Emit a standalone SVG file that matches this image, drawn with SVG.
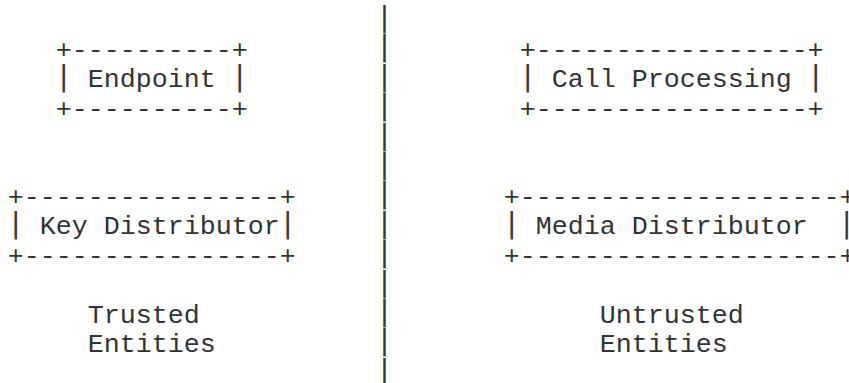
<svg xmlns="http://www.w3.org/2000/svg" width="849" height="383" viewBox="0 0 849 383">
<style>
text{font-family:"Liberation Mono","Courier New",monospace;font-size:26.67px;fill:#333;white-space:pre}
.b{font-family:"DejaVu Sans Mono","Liberation Mono",monospace;font-size:29px;fill:#3a3a3a}
.bar{text-anchor:middle}
</style>
<rect width="849" height="383" fill="#fff"/>
<g id="connectors">
<g id="divider" class="bar">
<text class="b" x="384.5" y="27">|</text>
<text class="b" x="384.5" y="56.4">|</text>
<text class="b" x="384.5" y="85.8">|</text>
<text class="b" x="384.5" y="115.2">|</text>
<text class="b" x="384.5" y="144.6">|</text>
<text class="b" x="384.5" y="174">|</text>
<text class="b" x="384.5" y="203.4">|</text>
<text class="b" x="384.5" y="232.8">|</text>
<text class="b" x="384.5" y="262.2">|</text>
<text class="b" x="384.5" y="291.6">|</text>
<text class="b" x="384.5" y="321">|</text>
<text class="b" x="384.5" y="350.4">|</text>
<text class="b" x="384.5" y="379.8">|</text>
</g>
</g>
<g id="endpoint">
<text x="55.7" y="57.9" xml:space="preserve">+----------+</text>
<text y="87.3" xml:space="preserve"><tspan class="b" x="63.7" y="85.8" text-anchor="middle">|</tspan><tspan x="71.7" y="87.3"> Endpoint </tspan><tspan class="b" x="239.7" y="85.8" text-anchor="middle">|</tspan></text>
<text x="55.7" y="116.7" xml:space="preserve">+----------+</text>
</g>
<g id="call-processing">
<text x="519.7" y="57.9" xml:space="preserve">+-----------------+</text>
<text y="87.3" xml:space="preserve"><tspan class="b" x="527.7" y="85.8" text-anchor="middle">|</tspan><tspan x="535.7" y="87.3"> Call Processing </tspan><tspan class="b" x="815.7" y="85.8" text-anchor="middle">|</tspan></text>
<text x="519.7" y="116.7" xml:space="preserve">+-----------------+</text>
</g>
<g id="key-distributor">
<text x="7.7" y="204.9" xml:space="preserve">+----------------+</text>
<text y="234.3" xml:space="preserve"><tspan class="b" x="15.7" y="232.8" text-anchor="middle">|</tspan><tspan x="23.7" y="234.3"> Key Distributor</tspan><tspan class="b" x="287.7" y="232.8" text-anchor="middle">|</tspan></text>
<text x="7.7" y="263.7" xml:space="preserve">+----------------+</text>
</g>
<g id="media-distributor">
<text x="503.7" y="204.9" xml:space="preserve">+--------------------+</text>
<text y="234.3" xml:space="preserve"><tspan class="b" x="511.7" y="232.8" text-anchor="middle">|</tspan><tspan x="519.7" y="234.3"> Media Distributor  </tspan><tspan class="b" x="846.7" y="232.8" text-anchor="middle">|</tspan></text>
<text x="503.7" y="263.7" xml:space="preserve">+--------------------+</text>
</g>
<g id="trusted-label">
<text x="87.7" y="322.5">Trusted</text>
<text x="87.7" y="351.9">Entities</text>
</g>
<g id="untrusted-label">
<text x="599.7" y="322.5">Untrusted</text>
<text x="599.7" y="351.9">Entities</text>
</g>
</svg>
